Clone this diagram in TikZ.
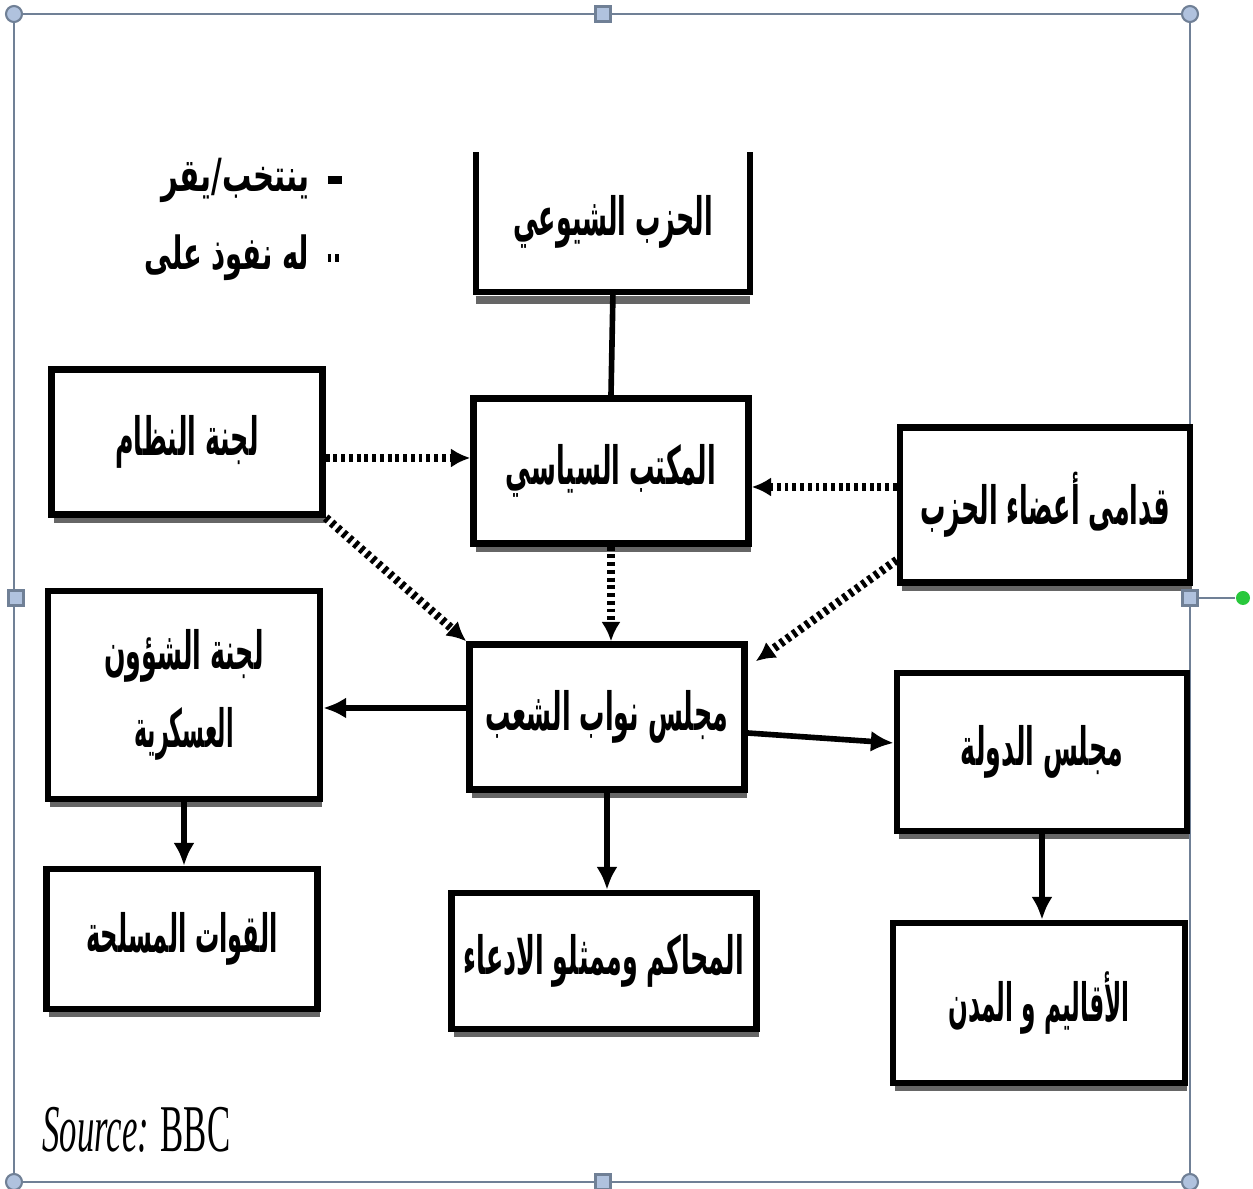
\documentclass[tikz,border=0pt]{standalone}
\usepackage{fontspec}
\usepackage{graphicx}
\setmainfont{Liberation Serif}
\newfontfamily\arabicfont[Script=Arabic]{DejaVu Sans}
\TeXXeTstate=1
\usepackage{tikz}
\usetikzlibrary{arrows.meta,positioning,shadows}
\definecolor{framegray}{RGB}{112,128,150}
\definecolor{handlefill}{RGB}{176,194,222}
\definecolor{rotgreen}{RGB}{40,200,60}
% narrow right-to-left label
\newcommand{\arlabel}[2][0.48]{\scalebox{#1}[1]{\beginR #2\endR}}
\tikzset{
    %Define standard arrow tip
    >={Latex[length=6.5pt,width=6pt]},
    %Define style for boxes
    organ/.style={
           rectangle,
           draw=black, line width=1.8pt,
           fill=white,
           minimum width=2.75cm,
           minimum height=1.45cm,
           align=center,
           font=\arabicfont\bfseries\fontsize{15}{22}\selectfont,
           drop shadow={shadow xshift=0.6pt, shadow yshift=-2.4pt,
                        fill=black!60, opacity=1}},
    openorgan/.style={
           rectangle,
           minimum width=2.73cm,
           minimum height=1.38cm,
           align=center,
           font=\arabicfont\bfseries\fontsize{15}{22}\selectfont},
    legend/.style={
           font=\arabicfont\bfseries\fontsize{13}{16}\selectfont,
           inner sep=0pt},
    % Define arrow styles
    elect/.style={
           ->,
           line width=1.6pt},
    influence/.style={
           -{Latex[length=5.5pt,width=5.5pt]},
           line width=2.4pt,
           dash pattern=on 1.1pt off 1.1pt},
    cornerhandle/.style={
           circle, draw=framegray, fill=handlefill,
           line width=0.6pt, inner sep=0pt, minimum size=0.16cm},
    sidehandle/.style={
           rectangle, draw=framegray, fill=handlefill,
           line width=0.6pt, inner sep=0pt, minimum size=0.15cm}
}
\begin{document}
\begin{tikzpicture}[x=0.01cm,y=-0.01cm]
\useasboundingbox (0,0) rectangle (1253,1189);
% picture frame
\draw[framegray, line width=0.6pt] (14,14) rectangle (1190,1182);
 %nodes
\node[openorgan] (party) at (613,222) {\arlabel{الحزب الشيوعي}};
\node[organ] (polit) at (611,471) {\arlabel{المكتب السياسي}};
\node[organ, minimum width=2.71cm] (disc) at (187,442) {\arlabel{لجنة النظام}};
\node[organ, minimum width=2.9cm, minimum height=1.55cm] (vet) at (1045,505) {\arlabel{قدامى أعضاء الحزب}};
\node[organ] (cong) at (607,717) {\arlabel{مجلس نواب الشعب}};
\node[organ, minimum width=2.72cm, minimum height=2.08cm] (mil) at (184,695) {\arlabel{لجنة الشؤون}\\\arlabel[0.42]{العسكرية}};
\node[organ, minimum width=2.9cm, minimum height=1.58cm] (state) at (1042,752) {\arlabel{مجلس الدولة}};
\node[organ, minimum width=2.71cm, minimum height=1.4cm] (armed) at (182,939) {\arlabel[0.46]{القوات المسلحة}};
\node[organ, minimum width=3.05cm, minimum height=1.36cm] (courts) at (604,961) {\arlabel{المحاكم وممثلو الادعاء}};
\node[organ, minimum width=2.92cm, minimum height=1.6cm] (regions) at (1039,1003) {\arlabel[0.44]{الأقاليم و المدن}};
\draw[line width=1.8pt] (party.north west) -- (party.south west) -- (party.south east) -- (party.north east);
\draw[black!60, line width=2.4pt] ([yshift=-2.4pt]party.south west) -- ([yshift=-2.4pt]party.south east);
 %legend
\node[legend, anchor=east] (elegend) at (310,180) {\arlabel[0.64]{ينتخب/يقر}};
\node[legend, anchor=east] (ilegend) at (310,258) {\arlabel[0.6]{له نفوذ على}};
\draw[line width=2.4pt] ([xshift=5pt]elegend.east) -- ++(14,0);
\draw[line width=2.4pt, dash pattern=on 1.1pt off 1.1pt] ([xshift=5pt]ilegend.east) -- ++(14,0);
 %connector ends
\coordinate (politw) at ([yshift=0.13cm]polit.west);
\coordinate (polite) at ([yshift=-0.16cm]polit.east);
\coordinate (congw) at ([yshift=0.09cm]cong.west);
 %connectors
\draw[line width=1.6pt] (party.south) -- (polit.north);
\draw[influence] (disc.east |- politw) -- (politw);
\draw[influence] (vet.west |- polite) -- (polite);
\draw[influence] (polit.south) -- (polit.south |- cong.north);
\draw[influence] (disc.south east) -- (cong.north west);
\draw[influence] ([yshift=-0.55cm]vet.west) -- ([xshift=0.08cm,yshift=-0.2cm]cong.north east);
\draw[elect] (congw) -- (congw -| mil.east);
\draw[elect] ([yshift=-0.16cm]cong.east) -- ([yshift=0.09cm]state.west);
\draw[elect] (mil.south) -- (mil.south |- armed.north);
\draw[elect] (cong.south) -- (cong.south |- courts.north);
\draw[elect] (state.south) -- (state.south |- regions.north);
 %source
\node[anchor=west, font=\fontsize{19}{19}\selectfont, xscale=0.52] (source) at (36,1130) {\textit{Source:} BBC};
 %handles
\node[cornerhandle] (h1) at (14,14) {};
\node[cornerhandle] (h2) at (1190,14) {};
\node[cornerhandle] (h3) at (14,1182) {};
\node[cornerhandle] (h4) at (1190,1182) {};
\node[sidehandle] (h5) at (603,14) {};
\node[sidehandle] (h6) at (603,1182) {};
\node[sidehandle] (h7) at (16,598) {};
\node[sidehandle] (h8) at (1190,598) {};
\node[circle, fill=rotgreen, inner sep=0pt, minimum size=0.14cm] (rot) at (1243,598) {};
\draw[framegray, line width=0.6pt] (h8) -- (rot);
\end{tikzpicture}
\end{document}
